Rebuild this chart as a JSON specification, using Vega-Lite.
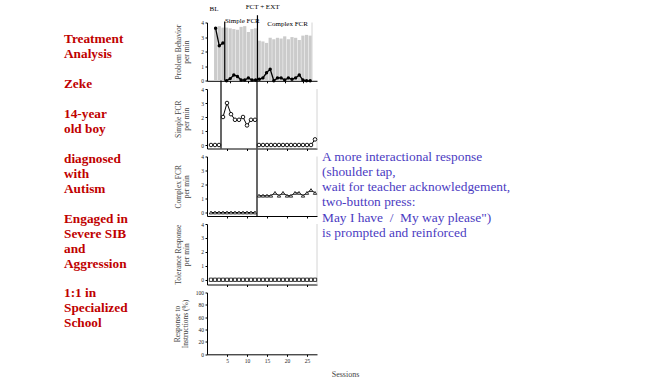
{
  "$schema": "https://vega.github.io/schema/vega-lite/v6.json",
  "padding": 0,
  "background": "white",
  "bounds": "flush",
  "spacing": 5,
  "datasets": {
    "sessions": [
      {"session": 1, "phase": "BL", "stage": "pre", "pb": 3.6, "bar": 3.7, "sfcr": 0, "cfcr": 0, "tol": 0},
      {"session": 2, "phase": "BL", "stage": "pre", "pb": 2.4, "bar": 3.75, "sfcr": 0, "cfcr": 0, "tol": 0},
      {"session": 3, "phase": "BL", "stage": "pre", "pb": 2.6, "bar": 3.65, "sfcr": 0, "cfcr": 0, "tol": 0},
      {"session": 4, "phase": "Simple FCR", "stage": "pre", "pb": 0, "bar": 3.65, "sfcr": 2.0, "cfcr": 0, "tol": 0},
      {"session": 5, "phase": "Simple FCR", "stage": "pre", "pb": 0.15, "bar": 3.6, "sfcr": 3.0, "cfcr": 0, "tol": 0},
      {"session": 6, "phase": "Simple FCR", "stage": "pre", "pb": 0.4, "bar": 3.55, "sfcr": 2.2, "cfcr": 0, "tol": 0},
      {"session": 7, "phase": "Simple FCR", "stage": "pre", "pb": 0.3, "bar": 3.5, "sfcr": 1.8, "cfcr": 0, "tol": 0},
      {"session": 8, "phase": "Simple FCR", "stage": "pre", "pb": 0.05, "bar": 3.7, "sfcr": 1.8, "cfcr": 0, "tol": 0},
      {"session": 9, "phase": "Simple FCR", "stage": "pre", "pb": 0.05, "bar": 3.75, "sfcr": 2.0, "cfcr": 0, "tol": 0},
      {"session": 10, "phase": "Simple FCR", "stage": "pre", "pb": 0.2, "bar": 3.35, "sfcr": 1.4, "cfcr": 0, "tol": 0},
      {"session": 11, "phase": "Simple FCR", "stage": "pre", "pb": 0.05, "bar": 3.55, "sfcr": 1.8, "cfcr": 0, "tol": 0},
      {"session": 12, "phase": "Simple FCR", "stage": "pre", "pb": 0.05, "bar": 3.6, "sfcr": 1.8, "cfcr": 0, "tol": 0},
      {"session": 13, "phase": "Complex FCR", "stage": "complex", "pb": 0.1, "bar": 2.75, "sfcr": 0, "cfcr": 1.2, "tol": 0},
      {"session": 14, "phase": "Complex FCR", "stage": "complex", "pb": 0.2, "bar": 2.7, "sfcr": 0, "cfcr": 1.2, "tol": 0},
      {"session": 15, "phase": "Complex FCR", "stage": "complex", "pb": 0.55, "bar": 2.6, "sfcr": 0, "cfcr": 1.2, "tol": 0},
      {"session": 16, "phase": "Complex FCR", "stage": "complex", "pb": 0.8, "bar": 2.95, "sfcr": 0, "cfcr": 1.2, "tol": 0},
      {"session": 17, "phase": "Complex FCR", "stage": "complex", "pb": 0, "bar": 2.85, "sfcr": 0, "cfcr": 1.4, "tol": 0},
      {"session": 18, "phase": "Complex FCR", "stage": "complex", "pb": 0.2, "bar": 2.95, "sfcr": 0, "cfcr": 1.2, "tol": 0},
      {"session": 19, "phase": "Complex FCR", "stage": "complex", "pb": 0.2, "bar": 2.9, "sfcr": 0, "cfcr": 1.4, "tol": 0},
      {"session": 20, "phase": "Complex FCR", "stage": "complex", "pb": 0.05, "bar": 3.05, "sfcr": 0, "cfcr": 1.2, "tol": 0},
      {"session": 21, "phase": "Complex FCR", "stage": "complex", "pb": 0.2, "bar": 2.85, "sfcr": 0, "cfcr": 1.2, "tol": 0},
      {"session": 22, "phase": "Complex FCR", "stage": "complex", "pb": 0.1, "bar": 3.0, "sfcr": 0, "cfcr": 1.4, "tol": 0},
      {"session": 23, "phase": "Complex FCR", "stage": "complex", "pb": 0.2, "bar": 2.95, "sfcr": 0, "cfcr": 1.4, "tol": 0},
      {"session": 24, "phase": "Complex FCR", "stage": "complex", "pb": 0.4, "bar": 2.8, "sfcr": 0, "cfcr": 1.2, "tol": 0},
      {"session": 25, "phase": "Complex FCR", "stage": "complex", "pb": 0.05, "bar": 3.1, "sfcr": 0, "cfcr": 1.4, "tol": 0},
      {"session": 26, "phase": "Complex FCR", "stage": "complex", "pb": 0, "bar": 3.15, "sfcr": 0, "cfcr": 1.6, "tol": 0},
      {"session": 27, "phase": "Complex FCR", "stage": "complex", "pb": 0, "bar": 3.1, "sfcr": 0.4, "cfcr": 1.4, "tol": 0}
    ],
    "info": [
      {"line": 0, "text": "Treatment"},
      {"line": 1, "text": "Analysis"},
      {"line": 3, "text": "Zeke"},
      {"line": 5, "text": "14-year"},
      {"line": 6, "text": "old boy"},
      {"line": 8, "text": "diagnosed"},
      {"line": 9, "text": "with"},
      {"line": 10, "text": "Autism"},
      {"line": 12, "text": "Engaged in"},
      {"line": 13, "text": "Severe SIB"},
      {"line": 14, "text": "and"},
      {"line": 15, "text": "Aggression"},
      {"line": 17, "text": "1:1 in"},
      {"line": 18, "text": "Specialized"},
      {"line": 19, "text": "School"}
    ],
    "note": [
      {"line": 0, "text": "A more interactional response"},
      {"line": 1, "text": "(shoulder tap,"},
      {"line": 2, "text": "wait for teacher acknowledgement,"},
      {"line": 3, "text": "two-button press:"},
      {"line": 4, "text": "May I have\u00a0 /\u00a0 My way please\")"},
      {"line": 5, "text": "is prompted and reinforced"}
    ]
  },
  "hconcat": [
    {
      "width": 202,
      "height": 378,
      "resolve": {"scale": {"x": "independent", "y": "independent"}},
      "layer": [
        {
          "data": {"name": "info"},
          "mark": {"type": "text", "align": "left", "baseline": "middle", "font": "Liberation Serif", "fontWeight": "bold", "fontSize": 13.3, "color": "#C00000"},
          "encoding": {
            "x": {"datum": 0, "type": "quantitative", "scale": {"domain": [-1, 2.156], "nice": false, "zero": false}, "axis": null},
            "y": {"field": "line", "type": "quantitative", "scale": {"domain": [-2.629, 22.656], "reverse": true, "nice": false, "zero": false}, "axis": null},
            "text": {"field": "text"}
          }
        },
        {
          "data": {"name": "note"},
          "mark": {"type": "text", "align": "left", "baseline": "middle", "font": "Liberation Serif", "fontSize": 13.4, "color": "#4B3BC2"},
          "encoding": {
            "x": {"datum": 1, "type": "quantitative", "scale": {"domain": [0, 0.6273], "nice": false, "zero": false}, "axis": null},
            "y": {"field": "line", "type": "quantitative", "scale": {"domain": [-10.309, 14.559], "reverse": true, "nice": false, "zero": false}, "axis": null},
            "text": {"field": "text"}
          }
        }
      ]
    },
    {
      "bounds": "flush",
      "spacing": 7.5,
      "vconcat": [
        {
          "width": 110,
          "height": 14.2,
          "data": {"values": [{}]},
          "layer": [
            {
              "mark": {"type": "text", "fontSize": 7, "font": "Liberation Serif", "color": "#000000"},
              "encoding": {
                "x": {"datum": 1.75, "type": "quantitative", "scale": {"domain": [0, 27.5], "nice": false, "zero": false}, "axis": null},
                "y": {"datum": 0.345, "type": "quantitative", "scale": {"domain": [0, 1], "nice": false, "zero": false}, "axis": null},
                "text": {"value": "BL"}
              }
            },
            {
              "mark": {"type": "text", "fontSize": 7, "font": "Liberation Serif", "color": "#000000"},
              "encoding": {
                "x": {"datum": 13.9, "type": "quantitative", "axis": null},
                "y": {"datum": 0.472, "type": "quantitative", "axis": null},
                "text": {"value": "FCT + EXT"}
              }
            }
          ]
        },
        {
          "width": 110,
          "height": 58.3,
          "data": {"name": "sessions"},
          "layer": [
            {
              "mark": {"type": "bar", "color": "#cbcbcb", "size": 3.2},
              "encoding": {
                "x": {"field": "session", "type": "quantitative", "scale": {"domain": [0, 27.5], "nice": false, "zero": false}, "axis": {"values": [5, 10, 15, 20, 25], "labels": false, "title": null}},
                "y": {"field": "bar", "type": "quantitative", "scale": {"domain": [0, 4], "nice": false, "zero": false}, "axis": {"values": [0, 1, 2, 3, 4], "title": ["Problem Behavior", "per min"], "titlePadding": 10, "titleLineHeight": 8.5}}
              }
            },
            {
              "data": {"values": [{}]},
              "mark": {"type": "rule", "color": "#000000", "strokeWidth": 1.2},
              "encoding": {
                "x": {"datum": 3.5, "type": "quantitative", "axis": {"values": [5, 10, 15, 20, 25], "labels": false, "title": null}},
                "y": {"datum": 4.07, "type": "quantitative", "axis": {"values": [0, 1, 2, 3, 4], "title": ["Problem Behavior", "per min"], "titlePadding": 10, "titleLineHeight": 8.5}},
                "y2": {"datum": 0}
              }
            },
            {
              "data": {"values": [{}]},
              "mark": {"type": "rule", "color": "#000000", "strokeWidth": 1.2},
              "encoding": {
                "x": {"datum": 12.5, "type": "quantitative", "axis": {"values": [5, 10, 15, 20, 25], "labels": false, "title": null}},
                "y": {"datum": 4.5, "type": "quantitative", "axis": {"values": [0, 1, 2, 3, 4], "title": ["Problem Behavior", "per min"], "titlePadding": 10, "titleLineHeight": 8.5}},
                "y2": {"datum": 0}
              }
            },
            {
              "data": {"values": [{}]},
              "mark": {"type": "rule", "color": "#d4d4d4", "strokeWidth": 1},
              "encoding": {
                "x": {"datum": 27.5, "type": "quantitative", "axis": {"values": [5, 10, 15, 20, 25], "labels": false, "title": null}},
                "y": {"datum": 4, "type": "quantitative", "axis": {"values": [0, 1, 2, 3, 4], "title": ["Problem Behavior", "per min"], "titlePadding": 10, "titleLineHeight": 8.5}},
                "y2": {"datum": 0}
              }
            },
            {
              "mark": {"type": "line", "color": "#000000", "strokeWidth": 1.3},
              "encoding": {
                "x": {"field": "session", "type": "quantitative", "axis": {"values": [5, 10, 15, 20, 25], "labels": false, "title": null}},
                "y": {"field": "pb", "type": "quantitative", "axis": {"values": [0, 1, 2, 3, 4], "title": ["Problem Behavior", "per min"], "titlePadding": 10, "titleLineHeight": 8.5}},
                "detail": {"field": "phase"}
              }
            },
            {
              "mark": {"type": "point", "shape": "circle", "filled": true, "color": "#000000", "size": 12, "opacity": 1},
              "encoding": {
                "x": {"field": "session", "type": "quantitative", "axis": {"values": [5, 10, 15, 20, 25], "labels": false, "title": null}},
                "y": {"field": "pb", "type": "quantitative", "axis": {"values": [0, 1, 2, 3, 4], "title": ["Problem Behavior", "per min"], "titlePadding": 10, "titleLineHeight": 8.5}}
              }
            },
            {
              "data": {"values": [{}]},
              "mark": {"type": "text", "fontSize": 7, "font": "Liberation Serif", "color": "#000000"},
              "encoding": {
                "x": {"datum": 8.35, "type": "quantitative", "axis": {"values": [5, 10, 15, 20, 25], "labels": false, "title": null}},
                "y": {"datum": 4.12, "type": "quantitative", "axis": {"values": [0, 1, 2, 3, 4], "title": ["Problem Behavior", "per min"], "titlePadding": 10, "titleLineHeight": 8.5}},
                "text": {"value": "Simple FCR"}
              }
            },
            {
              "data": {"values": [{}]},
              "mark": {"type": "text", "fontSize": 7, "font": "Liberation Serif", "color": "#000000"},
              "encoding": {
                "x": {"datum": 20.8, "type": "quantitative", "axis": {"values": [5, 10, 15, 20, 25], "labels": false, "title": null}},
                "y": {"datum": 3.9, "type": "quantitative", "axis": {"values": [0, 1, 2, 3, 4], "title": ["Problem Behavior", "per min"], "titlePadding": 10, "titleLineHeight": 8.5}},
                "text": {"value": "Complex FCR"}
              }
            }
          ]
        },
        {
          "width": 110,
          "height": 59.5,
          "data": {"name": "sessions"},
          "layer": [
            {
              "mark": {"type": "line", "color": "#000000", "strokeWidth": 1},
              "encoding": {
                "x": {"field": "session", "type": "quantitative", "scale": {"domain": [0, 27.5], "nice": false, "zero": false}, "axis": {"values": [5, 10, 15, 20, 25], "labels": false, "title": null}},
                "y": {"field": "sfcr", "type": "quantitative", "scale": {"domain": [-0.25, 4], "nice": false, "zero": false}, "axis": {"values": [0, 1, 2, 3, 4], "title": ["Simple FCR", "per min"], "titlePadding": 10, "titleLineHeight": 8.5}},
                "detail": {"field": "phase"}
              }
            },
            {
              "data": {"values": [{}]},
              "mark": {"type": "rule", "color": "#000000", "strokeWidth": 1.2},
              "encoding": {
                "x": {"datum": 3.5, "type": "quantitative", "axis": {"values": [5, 10, 15, 20, 25], "labels": false, "title": null}},
                "y": {"datum": 4.6, "type": "quantitative", "axis": {"values": [0, 1, 2, 3, 4], "title": ["Simple FCR", "per min"], "titlePadding": 10, "titleLineHeight": 8.5}},
                "y2": {"datum": -0.25}
              }
            },
            {
              "data": {"values": [{}]},
              "mark": {"type": "rule", "color": "#000000", "strokeWidth": 1.2},
              "encoding": {
                "x": {"datum": 12.5, "type": "quantitative", "axis": {"values": [5, 10, 15, 20, 25], "labels": false, "title": null}},
                "y": {"datum": 4.6, "type": "quantitative", "axis": {"values": [0, 1, 2, 3, 4], "title": ["Simple FCR", "per min"], "titlePadding": 10, "titleLineHeight": 8.5}},
                "y2": {"datum": -0.25}
              }
            },
            {
              "data": {"values": [{}]},
              "mark": {"type": "rule", "color": "#d4d4d4", "strokeWidth": 1},
              "encoding": {
                "x": {"datum": 27.5, "type": "quantitative", "axis": {"values": [5, 10, 15, 20, 25], "labels": false, "title": null}},
                "y": {"datum": 4, "type": "quantitative", "axis": {"values": [0, 1, 2, 3, 4], "title": ["Simple FCR", "per min"], "titlePadding": 10, "titleLineHeight": 8.5}},
                "y2": {"datum": -0.25}
              }
            },
            {
              "mark": {"type": "point", "shape": "circle", "filled": true, "fill": "#ffffff", "stroke": "#000000", "strokeWidth": 0.9, "size": 13, "opacity": 1},
              "encoding": {
                "x": {"field": "session", "type": "quantitative", "axis": {"values": [5, 10, 15, 20, 25], "labels": false, "title": null}},
                "y": {"field": "sfcr", "type": "quantitative", "axis": {"values": [0, 1, 2, 3, 4], "title": ["Simple FCR", "per min"], "titlePadding": 10, "titleLineHeight": 8.5}}
              }
            }
          ]
        },
        {
          "width": 110,
          "height": 59.5,
          "data": {"name": "sessions"},
          "layer": [
            {
              "mark": {"type": "line", "color": "#000000", "strokeWidth": 1},
              "encoding": {
                "x": {"field": "session", "type": "quantitative", "scale": {"domain": [0, 27.5], "nice": false, "zero": false}, "axis": {"values": [5, 10, 15, 20, 25], "labels": false, "title": null}},
                "y": {"field": "cfcr", "type": "quantitative", "scale": {"domain": [-0.25, 4], "nice": false, "zero": false}, "axis": {"values": [0, 1, 2, 3, 4], "title": ["Complex FCR", "per min"], "titlePadding": 10, "titleLineHeight": 8.5}},
                "detail": {"field": "stage"}
              }
            },
            {
              "data": {"values": [{}]},
              "mark": {"type": "rule", "color": "#000000", "strokeWidth": 1.2},
              "encoding": {
                "x": {"datum": 12.5, "type": "quantitative", "axis": {"values": [5, 10, 15, 20, 25], "labels": false, "title": null}},
                "y": {"datum": 4.5, "type": "quantitative", "axis": {"values": [0, 1, 2, 3, 4], "title": ["Complex FCR", "per min"], "titlePadding": 10, "titleLineHeight": 8.5}},
                "y2": {"datum": -0.25}
              }
            },
            {
              "data": {"values": [{}]},
              "mark": {"type": "rule", "color": "#d4d4d4", "strokeWidth": 1},
              "encoding": {
                "x": {"datum": 27.5, "type": "quantitative", "axis": {"values": [5, 10, 15, 20, 25], "labels": false, "title": null}},
                "y": {"datum": 4, "type": "quantitative", "axis": {"values": [0, 1, 2, 3, 4], "title": ["Complex FCR", "per min"], "titlePadding": 10, "titleLineHeight": 8.5}},
                "y2": {"datum": -0.25}
              }
            },
            {
              "mark": {"type": "point", "shape": "triangle-up", "filled": true, "fill": "#ffffff", "stroke": "#000000", "strokeWidth": 0.8, "size": 11, "opacity": 1},
              "encoding": {
                "x": {"field": "session", "type": "quantitative", "axis": {"values": [5, 10, 15, 20, 25], "labels": false, "title": null}},
                "y": {"field": "cfcr", "type": "quantitative", "axis": {"values": [0, 1, 2, 3, 4], "title": ["Complex FCR", "per min"], "titlePadding": 10, "titleLineHeight": 8.5}}
              }
            }
          ]
        },
        {
          "width": 110,
          "height": 60.5,
          "data": {"name": "sessions"},
          "layer": [
            {
              "mark": {"type": "line", "color": "#000000", "strokeWidth": 1},
              "encoding": {
                "x": {"field": "session", "type": "quantitative", "scale": {"domain": [0, 27.5], "nice": false, "zero": false}, "axis": {"values": [5, 10, 15, 20, 25], "labels": false, "title": null}},
                "y": {"field": "tol", "type": "quantitative", "scale": {"domain": [-0.34, 4], "nice": false, "zero": false}, "axis": {"values": [0, 1, 2, 3, 4], "title": ["Tolerance Response", "per min"], "titlePadding": 10, "titleLineHeight": 8.5}}
              }
            },
            {
              "data": {"values": [{}]},
              "mark": {"type": "rule", "color": "#d4d4d4", "strokeWidth": 1},
              "encoding": {
                "x": {"datum": 27.5, "type": "quantitative", "axis": {"values": [5, 10, 15, 20, 25], "labels": false, "title": null}},
                "y": {"datum": 4, "type": "quantitative", "axis": {"values": [0, 1, 2, 3, 4], "title": ["Tolerance Response", "per min"], "titlePadding": 10, "titleLineHeight": 8.5}},
                "y2": {"datum": -0.34}
              }
            },
            {
              "mark": {"type": "point", "shape": "square", "filled": true, "fill": "#ffffff", "stroke": "#000000", "strokeWidth": 0.8, "size": 11, "opacity": 1},
              "encoding": {
                "x": {"field": "session", "type": "quantitative", "axis": {"values": [5, 10, 15, 20, 25], "labels": false, "title": null}},
                "y": {"field": "tol", "type": "quantitative", "axis": {"values": [0, 1, 2, 3, 4], "title": ["Tolerance Response", "per min"], "titlePadding": 10, "titleLineHeight": 8.5}}
              }
            }
          ]
        },
        {
          "width": 110,
          "height": 61.8,
          "data": {"name": "sessions"},
          "mark": {"type": "point", "filled": true},
          "encoding": {
            "x": {"field": "session", "type": "quantitative", "scale": {"domain": [0, 27.5], "nice": false, "zero": false}, "axis": {"values": [5, 10, 15, 20, 25], "title": "Sessions", "titleX": 138, "titleY": 20.5, "titleBaseline": "middle", "titleFontSize": 8, "labelPadding": 2}},
            "y": {"field": "resp", "type": "quantitative", "scale": {"domain": [0, 100], "nice": false, "zero": false}, "axis": {"values": [0, 20, 40, 60, 80, 100], "title": ["Response to", "Instructions (%)"], "titlePadding": 5.5, "titleLineHeight": 8.5}}
          }
        }
      ]
    }
  ],
  "config": {
    "view": {"stroke": null},
    "axis": {
      "grid": false,
      "domainColor": "#000000",
      "domainWidth": 1,
      "tickColor": "#000000",
      "tickSize": 2,
      "tickWidth": 1,
      "labelFont": "Liberation Serif",
      "labelFontSize": 5.5,
      "labelColor": "#222222",
      "labelPadding": 1.5,
      "labelFlush": false,
      "titleFont": "Liberation Serif",
      "titleFontSize": 7.5,
      "titleFontWeight": "normal",
      "titleColor": "#444444"
    },
    "text": {"font": "Liberation Serif"}
  }
}
